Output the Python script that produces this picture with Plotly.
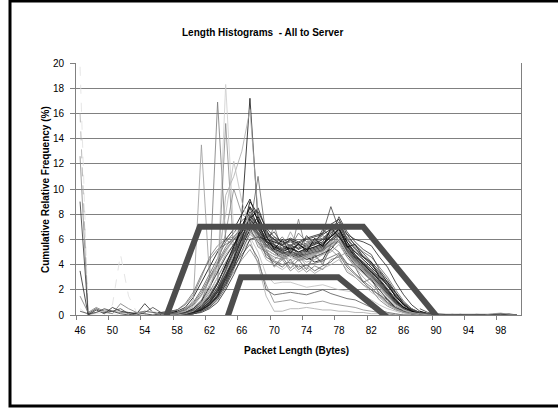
import plotly.graph_objects as go

# ---------------- data ----------------
# main bundle: packet lengths 56..91
bundle_x = list(range(56, 92))
bundle = [
    [0,0,0.1,0.2,0.4,0.8,1.5,2.5,4.0,5.5,7.0,8.5,7.0,5.5,5.0,4.8,5.0,4.6,4.8,5.0,5.2,6.0,6.5,5.0,4.2,3.5,3.0,2.2,1.5,0.9,0.5,0.2,0.1,0,0,0],
    [0,0.1,0.2,0.5,1.0,2.0,3.2,4.5,5.8,6.5,7.5,8.0,6.5,5.2,3.9,4.6,3.7,4.4,3.6,4.8,4.0,5.5,5.0,4.1,3.8,2.6,2.9,1.6,1.2,0.5,0.4,0.2,0.1,0,0,0],
    [0,0,0,0.1,0.2,0.5,1.0,1.8,3.0,4.5,6.5,9.0,8.0,6.2,5.5,5.2,5.4,5.0,5.3,5.6,5.8,6.8,7.2,5.8,4.8,4.0,3.4,2.8,2.0,1.2,0.6,0.3,0.1,0,0,0],
    [0,0.2,0.4,0.8,1.6,3.0,4.6,5.5,6.0,6.2,6.8,7.0,5.4,5.0,3.8,4.4,3.5,4.0,3.4,3.9,3.6,4.4,4.6,3.4,3.0,2.4,2.0,1.2,0.7,0.4,0.2,0.1,0,0,0,0],
    [0,0,0.1,0.1,0.3,0.6,1.2,2.0,3.5,5.0,6.0,7.8,7.2,6.0,5.8,5.5,6.0,5.6,5.2,5.8,5.5,6.5,7.0,5.5,4.6,4.2,3.6,3.0,2.4,1.6,0.8,0.4,0.2,0.1,0,0],
    [0,0,0,0.1,0.2,0.4,0.8,1.4,2.4,3.8,5.5,7.5,8.5,6.8,5.6,5.0,4.6,4.8,4.4,4.6,4.9,5.2,6.0,5.2,4.5,3.8,3.2,2.5,1.8,1.1,0.6,0.3,0.1,0,0,0],
    [0,0,0.1,0.3,0.6,1.2,2.4,3.6,4.8,5.6,6.4,7.0,6.2,5.4,6.2,5.2,6.6,5.4,6.0,5.5,6.4,6.8,7.6,6.0,5.4,4.4,3.8,2.6,2.0,1.0,0.5,0.2,0,0,0,0],
    [0,0,0,0,0.1,0.3,0.6,1.2,2.2,3.6,5.0,6.5,7.5,6.4,6.0,5.8,5.5,5.8,5.4,5.6,6.0,6.2,6.6,5.6,5.0,4.6,4.0,3.4,2.6,1.8,1.0,0.5,0.2,0.1,0,0],
    [0,0.1,0.3,0.6,1.4,2.6,3.8,5.0,6.0,6.8,8.0,9.2,7.4,5.8,5.0,4.5,4.8,4.4,4.6,4.2,4.4,5.6,6.0,4.8,4.0,3.4,2.8,2.0,1.2,0.6,0.3,0.1,0,0,0,0],
    [0,0,0.1,0.2,0.4,0.9,1.8,3.0,4.2,5.2,6.0,6.6,6.0,6.4,5.6,6.2,5.4,6.5,5.8,6.0,6.3,5.9,6.8,6.2,5.6,5.0,4.6,3.8,3.0,2.0,1.1,0.5,0.2,0.1,0,0],
    [0,0,0.1,0.2,0.5,1.0,3.0,16.9,6.0,5.5,6.2,7.4,6.0,5.0,4.6,4.4,4.7,4.3,4.5,4.7,4.8,5.4,5.8,4.6,3.9,3.3,2.7,2.0,1.3,0.7,0.4,0.2,0.1,0,0,0],
    [0,0,0.1,0.3,1.2,13.5,3.0,4.0,5.0,6.0,6.8,7.2,6.0,5.2,4.8,4.6,4.4,4.6,4.2,4.4,4.8,5.0,5.6,4.6,3.8,3.0,2.4,1.8,1.0,0.5,0.3,0.1,0,0,0,0],
    [0,0,0,0.1,0.3,0.8,1.6,3.0,18.3,6.5,7.0,7.6,6.4,5.4,5.0,4.8,4.6,4.9,4.5,4.8,5.0,5.6,6.0,5.0,4.2,3.6,3.0,2.2,1.4,0.8,0.4,0.2,0.1,0,0,0],
    [0,0,0,0.1,0.2,0.6,1.2,2.5,15.2,5.0,6.5,8.0,6.8,5.6,5.2,5.0,4.8,5.0,4.7,4.9,5.1,5.8,6.4,5.2,4.4,3.8,3.2,2.6,1.8,1.0,0.5,0.2,0.1,0,0,0],
    [0,0,0,0.1,0.2,0.5,1.0,2.0,3.2,4.4,8.0,17.2,7.5,5.8,5.2,5.0,5.3,4.9,5.1,5.3,5.5,6.2,6.8,5.4,4.6,4.0,3.4,2.8,2.0,1.2,0.6,0.3,0.1,0,0,0],
    [0,0,0,0.1,0.3,0.6,1.4,2.6,9.5,11.0,13.0,16.3,8.0,6.0,5.4,5.0,4.8,5.0,4.6,4.8,5.0,5.4,6.0,5.0,4.2,3.6,3.0,2.3,1.6,0.9,0.5,0.2,0.1,0,0,0],
    [0,0,0,0,0.1,0.3,0.7,1.5,2.8,4.2,5.6,7.0,11.0,6.2,5.4,5.0,4.7,4.9,4.6,4.8,5.2,5.6,6.2,5.2,4.4,3.8,3.2,2.4,1.6,0.9,0.5,0.2,0.1,0,0,0],
    [0,0,0.1,0.2,0.5,1.0,2.0,4.0,6.5,10.0,8.0,7.5,6.0,5.2,4.8,4.6,4.9,4.5,4.7,4.9,5.1,5.7,6.2,5.0,4.2,3.6,3.0,2.3,1.5,0.8,0.4,0.2,0.1,0,0,0],
    [0,0,0,0.1,0.2,0.4,0.9,1.6,2.8,4.2,5.8,7.2,6.6,5.8,5.6,5.3,5.6,5.2,5.5,5.7,6.0,6.6,7.4,6.0,5.2,4.6,4.0,3.2,2.4,1.5,0.8,0.4,0.2,0.1,0,0],
    [0,0.1,0.2,0.4,0.8,1.6,2.8,4.0,5.2,6.0,6.6,7.2,6.4,4.6,4.2,3.8,4.4,3.6,4.0,3.5,3.9,4.2,4.8,3.8,3.2,2.6,2.0,1.6,1.0,0.6,0.3,0.1,0,0,0,0],
    [0,0,0.1,0.2,0.4,0.8,1.6,2.6,3.8,5.0,6.2,7.6,6.6,5.4,7.1,5.0,4.8,7.6,5.0,5.2,5.4,6.0,6.4,5.2,4.4,3.8,3.2,2.5,1.7,1.0,0.5,0.2,0.1,0,0,0],
    [0,0,0,0.1,0.2,0.5,1.1,2.0,3.2,4.6,6.0,7.0,6.4,5.8,5.4,5.2,5.5,5.3,5.6,5.8,6.5,8.6,6.8,5.6,4.8,4.2,3.6,2.9,2.1,1.3,0.7,0.3,0.1,0,0,0],
    [0,0,0,0,0.1,0.2,0.5,1.0,2.0,3.2,4.6,6.0,6.2,6.0,5.8,5.6,5.9,5.7,6.0,6.2,6.4,6.8,7.0,6.4,6.0,5.8,5.5,4.6,3.8,2.6,1.6,0.8,0.3,0.1,0,0],
    [0,0,0.1,0.2,0.3,0.7,1.3,2.2,3.4,4.8,5.8,6.4,5.8,5.0,4.4,4.9,4.0,4.7,3.9,4.6,4.2,5.2,4.6,5.0,4.0,3.6,3.0,2.4,1.6,1.0,0.4,0.2,0,0,0,0],
    [0,0,0,0.1,0.2,0.4,0.8,1.5,2.6,4.0,5.4,6.8,7.8,6.6,6.0,5.5,5.2,5.6,5.2,5.4,5.7,6.2,6.8,5.8,5.0,4.4,3.8,3.1,2.3,1.5,0.8,0.4,0.1,0,0,0],
    [0.1,0.2,0.4,0.9,1.8,3.2,4.4,5.2,5.6,6.0,6.4,6.8,5.8,4.8,4.3,4.0,4.2,3.8,4.0,4.1,4.3,4.6,4.9,4.0,3.3,2.7,2.2,1.5,0.9,0.5,0.2,0.1,0,0,0,0],
    [0,0,0,0.1,0.3,0.6,1.2,2.2,3.6,5.2,6.8,8.2,7.0,5.9,5.3,4.9,5.1,4.7,4.9,5.1,5.3,5.9,6.3,5.1,4.3,3.7,3.1,2.4,1.7,1.0,0.5,0.2,0.1,0,0,0],
    [0,0,0.1,0.2,0.5,1.1,2.2,3.4,4.6,5.6,6.6,7.6,6.8,5.9,5.4,5.1,5.3,5.0,5.2,5.4,5.6,6.3,6.9,5.5,4.7,4.1,3.5,2.7,1.9,1.1,0.6,0.3,0.1,0,0,0],
    [0,0,0,0.1,0.2,0.5,1.0,1.9,3.1,4.5,6.1,7.9,7.1,6.1,6.6,5.6,6.0,5.2,6.3,5.6,6.8,6.2,7.8,6.6,5.8,5.2,4.8,3.6,2.8,1.8,0.9,0.4,0.1,0,0,0],
    [0,0.1,0.2,0.4,0.9,1.8,3.0,4.2,5.4,6.2,7.0,7.4,6.3,5.4,5.0,4.7,4.9,4.6,4.8,5.0,5.1,5.6,5.9,4.9,4.1,3.5,2.9,2.2,1.5,0.9,0.5,0.2,0.1,0,0,0],
    [0,0,0,0.1,0.3,0.7,1.4,2.5,3.9,5.4,7.0,8.6,7.6,6.3,5.2,6.0,4.9,5.7,5.0,6.1,5.4,6.9,6.2,5.4,5.6,4.6,4.2,3.0,2.6,1.4,0.9,0.3,0.1,0,0,0],
    [0,0,0.1,0.2,0.4,0.8,1.5,2.6,3.8,5.0,6.3,7.3,6.5,5.6,5.1,4.9,5.1,4.8,5.0,5.2,5.4,6.0,6.5,5.3,4.5,3.9,3.3,2.6,1.8,1.0,0.5,0.2,0.1,0,0,0],
    [0,0,0,0.1,0.2,0.4,0.8,1.6,2.9,4.4,6.0,7.7,8.2,6.9,6.2,5.8,6.1,5.8,6.1,6.3,6.5,7.2,7.6,6.4,5.5,4.9,4.2,3.5,2.6,1.7,0.9,0.4,0.2,0.1,0,0],
    [0,0,0.1,0.3,0.7,1.5,2.7,3.9,5.1,6.1,6.9,6.6,5.7,4.4,4.0,3.6,4.1,3.4,3.8,3.3,3.7,4.0,4.4,3.6,3.0,2.4,1.8,1.4,0.8,0.5,0.2,0.1,0,0,0,0],
    [0,0,0,0,0.1,0.3,0.6,1.3,2.5,4.0,5.6,7.3,7.7,6.5,5.9,5.6,5.8,5.5,5.7,5.9,6.1,6.7,7.2,6.1,5.3,4.7,4.1,3.3,2.5,1.6,0.9,0.4,0.2,0.1,0,0],
    [0,0,0,0.1,0.3,0.8,2.0,4.5,8.0,12.2,9.0,7.0,6.0,5.2,4.8,4.5,4.7,4.4,4.6,4.8,5.0,5.5,6.0,4.9,4.1,3.5,2.9,2.2,1.5,0.8,0.4,0.2,0.1,0,0,0],
]
bundle_colors = ["#222222", "#555555", "#000000", "#777777", "#333333", "#111111",
                 "#999999", "#444444", "#000000", "#666666", "#777777", "#999999",
                 "#cccccc", "#888888", "#111111", "#aaaaaa", "#666666", "#888888",
                 "#333333", "#555555", "#777777", "#444444", "#222222", "#888888",
                 "#000000", "#666666", "#333333",
                 "#111111", "#333333", "#666666", "#000000", "#444444", "#222222",
                 "#aaaaaa", "#555555", "#bbbbbb"]

# low series (below the inner trapezoid)
low = [
    [0,0,0,0.1,0.2,0.5,1.0,2.0,3.0,4.2,5.0,6.0,4.0,1.5,0.3,0.3,0.5,0.5,0.6,0.5,0.4,0.4,0.3,0.3,0.2,0.2,0.1,0.1,0.1,0,0,0,0,0,0,0],
    [0,0,0,0.1,0.2,0.4,0.9,1.8,2.8,3.8,4.8,5.6,4.5,2.0,1.6,1.7,1.8,1.7,1.6,1.8,2.0,1.7,1.5,1.3,1.2,0.9,0.6,0.4,0.2,0.1,0,0,0,0,0,0],
    [0,0,0,0.1,0.3,0.6,1.2,2.2,3.2,4.4,5.4,6.2,5.0,3.2,2.5,2.6,2.6,2.4,2.2,2.3,2.4,2.2,2.0,1.9,1.8,1.5,1.2,0.8,0.5,0.3,0.1,0,0,0,0,0],
    [0,0,0,0,0.1,0.3,0.7,1.4,2.4,3.4,4.4,5.2,4.2,2.4,1.0,1.1,1.2,1.0,0.9,1.0,1.1,0.9,0.8,0.7,0.6,0.4,0.3,0.2,0.1,0,0,0,0,0,0,0],
]
low_colors = ["#aaaaaa", "#555555", "#bbbbbb", "#888888"]

# left region: packet lengths 46..58
left_x = list(range(46, 59))
left = [
    [19.7,0,0.1,0.2,0.1,0,0.1,0.2,0.1,0,0,0.1,0.1],
    [16.0,0,0.3,0.2,0.1,0.2,0.1,0,0,0.1,0,0,0.1],
    [12.6,0,0.2,0.4,0.3,0.2,0.2,0.1,0.3,0.2,0.1,0.1,0.2],
    [9.0,0.1,0.5,0.2,0.3,0.1,0,0.2,0.1,0,0.1,0.2,0.3],
    [3.5,0,0.4,0.1,0.6,0.3,0.2,0.1,0.9,0.2,0.2,0.3,0.4],
    [0.5,0,0.2,0.3,0.8,4.8,1.5,0.2,0.1,0.3,0.1,0,0.2],
    [1.5,0.2,0.6,0.3,0.1,0.9,0.5,0.2,0.3,0.2,0,0.2,0.4],
    [0.3,0.1,0.2,0.5,0.3,0.5,0.1,0,0.2,0.6,0.2,0.1,0.3],
]
left_colors = ["#e0e0e0", "#aaaaaa", "#888888", "#333333", "#222222", "#dddddd", "#777777", "#444444"]
left_dash = ["dash", "dash", "solid", "solid", "solid", "dash", "solid", "solid"]

# right tail: packet lengths 88..100
right_x = list(range(88, 101))
right = [
    [0.3,0.1,0.05,0.05,0,0,0.05,0,0,0.05,0.1,0,0],
    [0.2,0.1,0.05,0,0.05,0,0,0,0.05,0,0.05,0.1,0],
    [0.5,0.2,0.1,0.05,0,0.05,0,0.05,0,0,0,0.05,0],
    [0.1,0.05,0,0,0,0,0,0,0,0.1,0.15,0.05,0],
]
right_colors = ["#000000", "#555555", "#333333", "#888888"]

# highlighted envelopes (thick dark lines)
outer_x = [56.6, 60.8, 81.0, 90.2]
outer_y = [-0.2, 7.0, 7.0, -0.2]
inner_x = [64.2, 65.9, 77.9, 84.0]
inner_y = [-0.2, 3.0, 3.0, -0.2]

x_ticks = list(range(46, 99, 4))
y_ticks = list(range(0, 21, 2))

FONT = "Arial, 'Liberation Sans', sans-serif"

fig = go.Figure()

def add_line(xs, ys, color, width=0.8, dash="solid"):
    fig.add_trace(go.Scatter(x=xs, y=ys, mode="lines",
                             line=dict(color=color, width=width, dash=dash),
                             showlegend=False, hoverinfo="skip"))

for ys, c, d in zip(left, left_colors, left_dash):
    add_line(left_x, ys, c, 0.8, d)
for ys, c in zip(low, low_colors):
    add_line(bundle_x, ys, c)
for ys, c in zip(bundle, bundle_colors):
    add_line(bundle_x, ys, c)
for ys, c in zip(right, right_colors):
    add_line(right_x, ys, c)

for xs, ys in ((outer_x, outer_y), (inner_x, inner_y)):
    fig.add_trace(go.Scatter(x=xs, y=ys, mode="lines",
                             line=dict(color="#4d4d4d", width=6),
                             cliponaxis=False, showlegend=False, hoverinfo="skip"))

L, R, T, B = 76, 37, 63, 93
pw = 558 - L - R
ph = 408 - T - B

fig.update_layout(
    width=558, height=408,
    margin=dict(l=L, r=R, t=T, b=B),
    paper_bgcolor="white", plot_bgcolor="white",
    font=dict(family=FONT, size=10, color="#000000"),
    xaxis=dict(range=[45.5, 100.5], tickmode="array", tickvals=x_ticks,
               ticks="", showgrid=False, zeroline=False,
               showline=True, linecolor="#808080", linewidth=1,
               ticklabelstandoff=6,
               minor=dict(tickmode="linear", tick0=45.5, dtick=4, ticks="outside",
                          ticklen=4, tickcolor="#808080", showgrid=False),
               tickfont=dict(size=10, family=FONT)),
    yaxis=dict(range=[0, 20], tickmode="array", tickvals=y_ticks,
               ticks="outside", ticklen=5, tickcolor="#808080",
               showgrid=True, gridcolor="#808080", gridwidth=1, zeroline=False,
               showline=True, linecolor="#808080", linewidth=1, mirror=True,
               ticklabelstandoff=4,
               tickfont=dict(size=10, family=FONT)),
    annotations=[
        dict(text="<b>Length Histograms  - All to Server</b>", xref="paper", yref="paper",
             x=(262 - L) / pw, y=(408 - B - 32) / ph, xanchor="center", yanchor="middle",
             showarrow=False, font=dict(size=10, family=FONT)),
        dict(text="<b>Packet Length (Bytes)</b>", xref="paper", yref="paper",
             x=(296 - L) / pw, y=(408 - B - 350) / ph, xanchor="center", yanchor="middle",
             showarrow=False, font=dict(size=10, family=FONT)),
        dict(text="<b>Cumulative Relative Frequency (%)</b>", xref="paper", yref="paper",
             x=(45 - L) / pw, y=(408 - B - 190) / ph, xanchor="center", yanchor="middle",
             textangle=-90, showarrow=False, font=dict(size=10, family=FONT)),
    ],
    shapes=[
        dict(type="rect", xref="paper", yref="paper",
             x0=(10 - L) / pw, x1=(600 - L) / pw,
             y0=(408 - B - 406) / ph, y1=(408 - B - 1) / ph,
             line=dict(color="black", width=3), fillcolor="rgba(0,0,0,0)", layer="above"),
    ],
)

fig.write_html("out.html")
